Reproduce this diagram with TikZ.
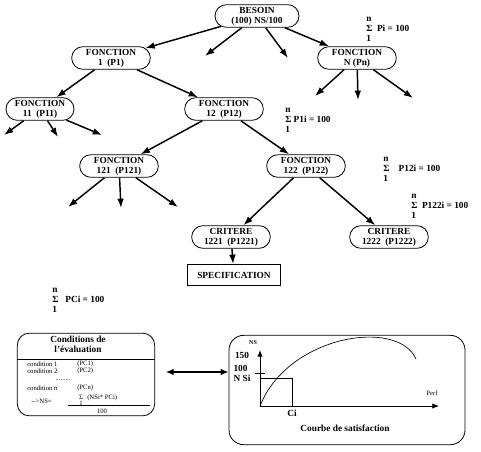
\documentclass[tikz,border=0pt]{standalone}
\usepackage{fontspec}
\setmainfont{Liberation Serif}
\usetikzlibrary{arrows.meta,shapes.misc}
\begin{document}
\begin{tikzpicture}[x=0.75pt,y=-0.75pt]
	\tikzstyle{fonction}=[rounded rectangle,draw=black,line width=0.6pt,minimum width=61pt,minimum height=17pt,inner sep=1pt,align=center,font=\fontsize{7}{7.5}\selectfont\bfseries]
	\tikzstyle{edge}=[draw,line width=1.1pt,-{Latex[length=7pt,width=5pt]}]
	\tikzstyle{somme}=[anchor=north west,inner sep=0pt,align=left,font=\fontsize{7}{7.5}\selectfont\bfseries]
	\tikzstyle{cadre}=[draw=black,line width=0.6pt,rounded corners=9pt]
	\tikzstyle{petit}=[inner sep=0pt,font=\fontsize{5}{5.5}\selectfont]
	\tikzstyle{gras}=[inner sep=0pt,align=center,font=\fontsize{7}{7.5}\selectfont\bfseries]
	\useasboundingbox (0,0) rectangle (481,451);
	% arbre des fonctions
	\begin{scope}
		\node [fonction,minimum width=65pt] (besoin) at (257,16) {BESOIN\\(100) NS/100};
		\node [fonction] (f1) at (111,58) {FONCTION\\1~~(P1)};
		\node [fonction] (fN) at (357,58) {FONCTION\\N~(Pn)};
		\node [fonction,minimum width=53pt] (f11) at (40,109) {FONCTION\\11~~(P11)};
		\node [fonction] (f12) at (224,109) {FONCTION\\12~~(P12)};
		\node [fonction] (f121) at (119,166) {FONCTION\\121~~(P121)};
		\node [fonction] (f122) at (306,166) {FONCTION\\122~~(P122)};
		\node [fonction] (c1221) at (231,237) {CRITERE\\1221~~(P1221)};
		\node [fonction] (c1222) at (389,237) {CRITERE\\1222~~(P1222)};
		\node [draw,line width=0.6pt,minimum width=70pt,minimum height=16pt,inner sep=1pt,font=\fontsize{7}{7.5}\selectfont\bfseries] (spec) at (234,275) {SPECIFICATION};
		\coordinate (b2) at (205,56);
		\coordinate (b3) at (288,58);
		\coordinate (n1) at (315,96);
		\coordinate (n2) at (358,100);
		\coordinate (n3) at (413,98);
		\coordinate (a1) at (4,135);
		\coordinate (a2) at (58,137);
		\coordinate (a3) at (102,135);
		\coordinate (d1) at (68,207);
		\coordinate (d2) at (121,208);
		\coordinate (d3) at (178,207);
		\path[edge] (besoin) edge (f1);
		\path[edge] (besoin) edge (b2);
		\path[edge] (besoin) edge (b3);
		\path[edge] (besoin) edge (fN);
		\path[edge] (fN) edge (n1);
		\path[edge] (fN) edge (n2);
		\path[edge] (fN) edge (n3);
		\path[edge] (f1) edge (f11);
		\path[edge] (f1) edge (f12);
		\path[edge] (f11) edge (a1);
		\path[edge] (f11) edge (a2);
		\path[edge] (f11) edge (a3);
		\path[edge] (f12) edge (f121);
		\path[edge] (f12) edge (f122);
		\path[edge] (f121) edge (d1);
		\path[edge] (f121) edge (d2);
		\path[edge] (f121) edge (d3);
		\path[edge] (f122) edge (c1221);
		\path[edge] (f122) edge (c1222);
		\path[edge] (c1221) edge (spec);
	\end{scope}
	% sommes des poids
	\node [somme] (s1) at (366,17) {n\\Σ~~Pi = 100\\1};
	\node [somme] (s2) at (285,108) {n\\Σ~P1i = 100\\1};
	\node [somme] (s3) at (383,157) {n\\Σ~~~~P12i = 100\\1};
	\node [somme] (s4) at (411,194) {n\\Σ~~P122i = 100\\1};
	\node [somme] (s5) at (52,288) {n\\Σ~~~PCi = 100\\1};
	% conditions de l'evaluation
	\node [cadre,minimum width=103pt,minimum height=62pt] (cond) at (86,374.5) {};
	\draw[line width=0.6pt] (cond.west |- 0,359) -- (cond.east |- 0,359);
	\node [gras] (titre) at (78,344) {Conditions de\\l'évaluation};
	\node [petit,anchor=west] (k1) at (27,364) {condition 1};
	\node [petit,anchor=west] (p1) at (77,364) {(PC1)};
	\node [petit,anchor=west] (k2) at (27,371) {condition 2};
	\node [petit,anchor=west] (p2) at (77,371) {(PC2)};
	\node [petit] (pts) at (63,380) {.........};
	\node [petit,anchor=west] (kn) at (27,388) {condition n};
	\node [petit,anchor=west] (pn) at (77,388) {(PCn)};
	\node [petit,anchor=west] (ns) at (31,401) {-{}-{}>NS=};
	\node [petit,align=center,font=\fontsize{5}{4.5}\selectfont] (sig) at (81,400) {Σ\\1};
	\node [petit,anchor=west] (num) at (87,398) {(NSi* PCi)};
	\draw[line width=0.6pt] (68,405) -- (150,405);
	\node [petit] (den) at (102,411) {100};
	% courbe de satisfaction
	\node [cadre,minimum width=177pt,minimum height=82pt,rounded corners=11pt] (courbe) at (347,390) {};
	\coordinate (orig) at (260,406);
	\coordinate (yfin) at (260,350);
	\coordinate (xfin) at (439,406);
	\draw[line width=0.6pt,-{Latex[length=5pt,width=4pt]}] (orig) -- (yfin);
	\draw[line width=0.6pt,-{Latex[length=5pt,width=4pt]}] (orig) -- (xfin);
	\draw[line width=0.6pt] (255,373) -- (265,373);
	\draw[line width=0.6pt] (orig) |- (292,378) -- (292,406);
	\draw[line width=0.5pt] (orig) .. controls (288,335) and (398,318) .. (416,359);
	\node [petit,font=\fontsize{4.5}{5}\selectfont\bfseries] (lns) at (253,343) {NS};
	\node [gras] (l150) at (242,355) {150};
	\node [gras,align=left] (l100) at (242,373) {100\\N Si};
	\node [gras] (lci) at (292,413) {Ci};
	\node [petit,font=\fontsize{5}{5}\selectfont] (lperf) at (432,393) {Perf};
	\node [gras] (ltitre) at (345,428) {Courbe de satisfaction};
	\draw[line width=1.1pt,{Latex[length=6pt,width=5pt]}-{Latex[length=6pt,width=5pt]}] ([xshift=8pt]cond.east |- 0,372) -- (courbe.west |- 0,372);
\end{tikzpicture}
\end{document}
